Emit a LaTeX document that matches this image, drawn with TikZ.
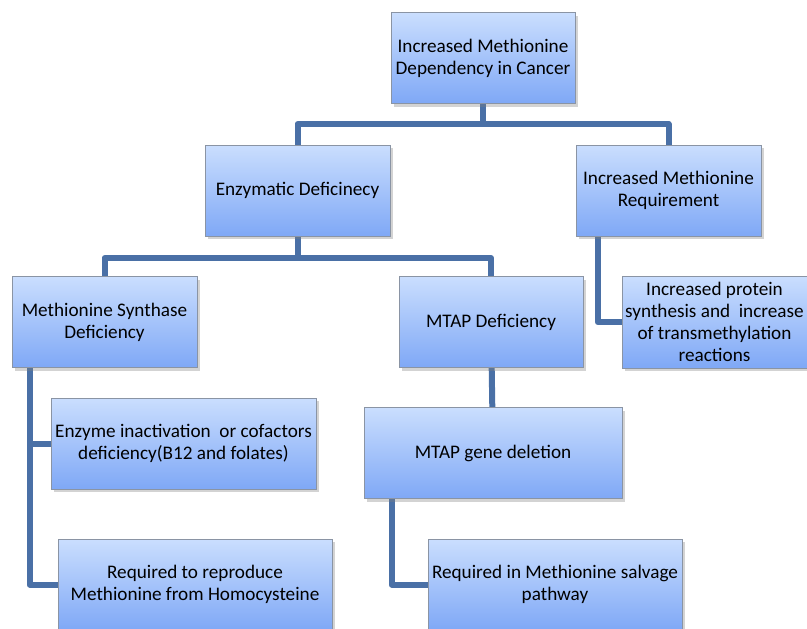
\documentclass[tikz,border=0pt]{standalone}
\usepackage{fontspec}
\setmainfont{Carlito}
\usepackage{xcolor}
\usepackage{tikz}
\usetikzlibrary{positioning,shadows,shadings,backgrounds}
\definecolor{boxtop}{HTML}{CADEFE}
\definecolor{boxbot}{HTML}{7FA8F6}
\definecolor{boxline}{HTML}{8A94A4}
\definecolor{linkblue}{HTML}{4A70A6}
\tikzset{
  topic/.style={rectangle, draw=boxline, line width=0.8pt, align=center, top color=boxtop, bottom color=boxbot, minimum height=91pt, inner sep=1pt, drop shadow={shadow xshift=3pt, shadow yshift=-3pt, opacity=0.35}, font=\fontsize{19.2}{22}\selectfont},
  link/.style={draw=linkblue, line width=6pt, line join=round}
}
\begin{document}
\begin{tikzpicture}[x=1pt, y=-1pt]
  \useasboundingbox (0,0) rectangle (807,629);
  \clip (0,0) rectangle (807,629);
  \node[topic, minimum width=184pt] (cancer) at (483,58) {Increased Methionine\\Dependency in Cancer};
  \node[topic, minimum width=185pt] (enzdef) at (297.5,190.5) {Enzymatic Deficinecy};
  \node[topic, minimum width=185pt] (metreq) at (668.5,190.5) {Increased Methionine\\Requirement};
  \node[topic, minimum width=185pt] (msdef) at (104.5,322) {Methionine Synthase\\Deficiency};
  \node[topic, minimum width=184pt] (mtapdef) at (491,322) {MTAP Deficiency};
  \node[topic, minimum width=185pt, minimum height=92pt] (protsyn) at (714.5,322) {Increased protein\\synthesis and~ increase\\of transmethylation\\reactions};
  \node[topic, minimum width=265pt] (inact) at (183.5,443.5) {Enzyme inactivation~ or cofactors\\deficiency(B12 and folates)};
  \node[topic, minimum width=258pt] (gendel) at (493,453) {MTAP gene deletion};
  \node[topic, minimum width=274pt] (reprod) at (195,584.5) {Required to reproduce\\Methionine from Homocysteine};
  \node[topic, minimum width=254pt] (salvage) at (555,584.5) {Required in Methionine salvage\\pathway};
  \coordinate (fork1) at (483,124);
  \coordinate (fork2) at (297.5,258);
  \begin{scope}[on background layer]
  \draw[link] (cancer) -- (fork1);
  \draw[link] (enzdef.north) |- (fork1) -| (metreq.north);
  \draw[link] (enzdef) -- (fork2);
  \draw[link] (msdef.north) |- (fork2) -| (mtapdef.north);
  \draw[link] (mtapdef) -- (gendel);
  \draw[link] ([xshift=22pt]metreq.south west) |- (protsyn.west);
  \draw[link] ([xshift=18pt]msdef.south west) |- (inact.west);
  \draw[link] ([xshift=18pt]msdef.south west) |- (reprod.west);
  \draw[link] ([xshift=28pt]gendel.south west) |- (salvage.west);
  \end{scope}
\end{tikzpicture}
\end{document}
